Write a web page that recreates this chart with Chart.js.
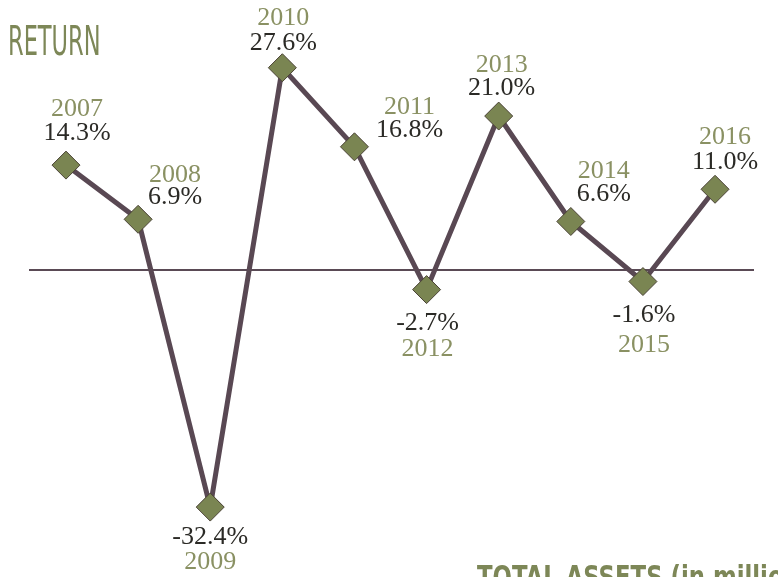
<!DOCTYPE html>
<html>
<head>
<meta charset="utf-8">
<script src="https://cdn.jsdelivr.net/npm/chart.js@4/dist/chart.umd.min.js"></script>
<style>
  html, body { margin: 0; padding: 0; background: #ffffff; overflow: hidden; }
  #wrap { position: relative; width: 778px; height: 577px; overflow: hidden; }
  #c { position: absolute; left: 0; top: 0; }
  .ttl { position: absolute; white-space: nowrap; color: #7d8757; font-family: "DejaVu Sans Condensed", "DejaVu Sans", sans-serif; transform-origin: 0 0; }
  #t1 { left: 8px; top: 17px; font-size: 41px; transform: scaleX(0.61); }
  #t2 { left: 477px; top: 559px; font-size: 30px; font-weight: bold; transform: scaleX(0.845); }
</style>
</head>
<body>
<div id="wrap">
  <canvas id="c" width="778" height="577"></canvas>
  <div class="ttl" id="t1">RETURN</div>
  <div class="ttl" id="t2">TOTAL ASSETS (in millions)</div>
</div>
<script>
const years = ["2007","2008","2009","2010","2011","2012","2013","2014","2015","2016"];
const returns = [14.3, 6.9, -32.4, 27.6, 16.8, -2.7, 21.0, 6.6, -1.6, 11.0];
const valueLabels = ["14.3%","6.9%","-32.4%","27.6%","16.8%","-2.7%","21.0%","6.6%","-1.6%","11.0%"];

// label placement relative to each point: [dx, valueDy, yearDy]
const labelPlacement = [
  [11, -32, -56], [37, -22, -44], [0, 30, 55], [1, -25, -50], [55, -17, -40],
  [1, 34, 60], [3, -28, -51], [33, -27, -50], [1, 34, 64], [10, -27, -52]
];

const labelPlugin = {
  id: 'pointLabels',
  afterDatasetsDraw(chart) {
    const ctx = chart.ctx;
    const meta = chart.getDatasetMeta(0);
    ctx.save();
    ctx.textAlign = 'center';
    ctx.textBaseline = 'middle';
    ctx.font = '26px "Liberation Serif", "DejaVu Serif", serif';
    meta.data.forEach((pt, i) => {
      const p = labelPlacement[i];
      const x = pt.x + p[0];
      ctx.fillStyle = '#2b2a26';
      ctx.fillText(valueLabels[i], x, pt.y + p[1]);
      ctx.fillStyle = '#8a9163';
      ctx.fillText(years[i], x, pt.y + p[2]);
    });
    ctx.restore();
  }
};

new Chart(document.getElementById('c'), {
  type: 'line',
  data: {
    datasets: [{
      data: returns.map((v, i) => ({ x: i, y: v })),
      borderColor: '#594853',
      borderWidth: 5,
      tension: 0,
      pointStyle: 'rectRot',
      pointRadius: 14,
      pointHoverRadius: 14,
      pointBackgroundColor: '#7a8552',
      pointBorderColor: '#4a4236',
      pointBorderWidth: 1,
      clip: false
    }]
  },
  options: {
    responsive: false,
    animation: false,
    events: [],
    layout: { padding: { left: 29, right: 24, top: 0, bottom: 14 } },
    plugins: { legend: { display: false }, tooltip: { enabled: false }, title: { display: false } },
    scales: {
      x: { type: 'linear', min: -0.513, max: 9.54, display: false },
      y: {
        min: -39.9, max: 34.8,
        display: true,
        ticks: { display: false, stepSize: 4 },
        border: { display: false },
        grid: {
          drawTicks: false,
          tickLength: 0,
          lineWidth: (c) => (c.tick && c.tick.value === 0 ? 2 : 0),
          color: (c) => (c.tick && c.tick.value === 0 ? '#5a4a55' : 'rgba(0,0,0,0)')
        }
      }
    }
  },
  plugins: [labelPlugin]
});
</script>
</body>
</html>
